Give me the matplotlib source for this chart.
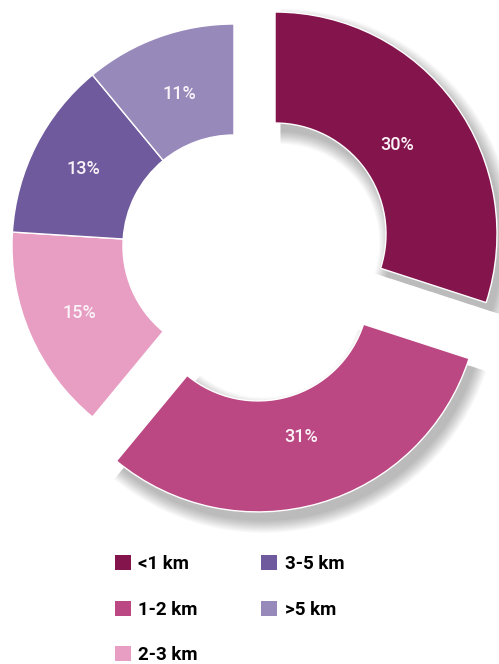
import matplotlib.pyplot as plt
from matplotlib.patches import Patch, Wedge

categories = ["<1 km", "1-2 km", "2-3 km", "3-5 km", ">5 km"]
shares = [30, 31, 15, 13, 11]
pct_labels = ["30%", "31%", "15%", "13%", "11%"]
colors = ["#84144C", "#BB4882", "#E89EC3", "#6E5A9C", "#9889BB"]
# how far the two big slices are pulled out (x, y in radius units)
offsets = [(0.185, 0.054), (0.108, -0.198), (0, 0), (0, 0), (0, 0)]
label_radius = [0.68, 0.69, 0.76, 0.76, 0.73]

FONT = ["Roboto", "DejaVu Sans"]

fig = plt.figure(figsize=(4.99, 6.64), dpi=100)
ax = fig.add_axes([0, 0, 1, 1])

wedges, texts = ax.pie(
    shares,
    colors=colors,
    startangle=90,
    counterclock=False,
    radius=1.0,
    labels=pct_labels,
    labeldistance=1.0,
    wedgeprops=dict(width=0.5, edgecolor="white", linewidth=1.0),
    textprops=dict(color="#FAF3F7", fontsize=13, family=FONT, weight="medium"),
)
ax.set_xlim(-1.054, 1.194)
ax.set_ylim(-1.883, 1.108)
ax.set_aspect("equal")
ax.axis("off")

for wedge, text, (dx, dy), r in zip(wedges, texts, offsets, label_radius):
    wedge.set_center((dx, dy))
    x, y = text.get_position()
    text.set_position((x * r + dx, y * r + dy))
    text.set_ha("center")
    text.set_va("center")
    text.set_zorder(5)
    if dx or dy:
        # soft drop shadow under the pulled-out slices
        for k in range(12):
            s = 0.005 * k
            shadow = Wedge(
                (dx + 0.025, dy - 0.04),
                wedge.r + s,
                wedge.theta1,
                wedge.theta2,
                width=wedge.width + 2 * s,
                facecolor="black",
                edgecolor="none",
                alpha=0.025,
                zorder=0,
            )
            ax.add_patch(shadow)
        wedge.set_zorder(2)

handles = [Patch(facecolor=c, edgecolor="none") for c in colors]
fig.legend(
    handles,
    categories,
    ncol=2,
    loc="upper left",
    bbox_to_anchor=(0.196, 0.189),
    frameon=False,
    handlelength=0.85,
    handleheight=0.85,
    handletextpad=0.4,
    labelspacing=1.45,
    columnspacing=3.4,
    prop=dict(family=FONT, size=13.5, weight="bold"),
)

fig.savefig("out.png", dpi=100)
